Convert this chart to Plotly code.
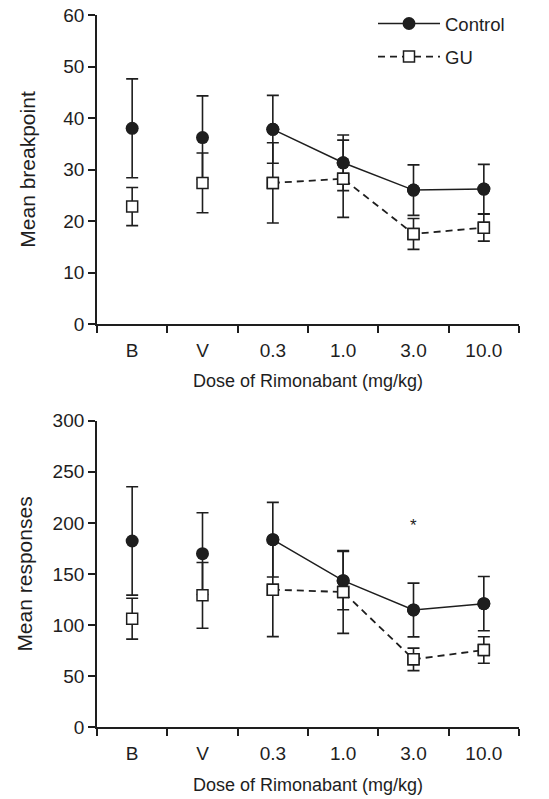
import plotly.graph_objects as go

categories = ["B", "V", "0.3", "1.0", "3.0", "10.0"]

# Top panel: Mean breakpoint
bp_control = [38.0, 36.2, 37.8, 31.3, 26.0, 26.2]
bp_control_err = [9.6, 8.1, 6.6, 5.4, 4.9, 4.8]
bp_gu = [22.8, 27.4, 27.4, 28.2, 17.5, 18.7]
bp_gu_err = [3.7, 5.8, 7.8, 7.5, 3.0, 2.6]

# Bottom panel: Mean responses
rs_control = [182.3, 169.9, 183.6, 143.5, 114.8, 121.0]
rs_control_err = [53.0, 40.0, 36.5, 28.5, 26.3, 26.6]
rs_gu = [106.3, 129.1, 134.7, 132.4, 66.5, 75.6]
rs_gu_err = [20.0, 32.2, 46.0, 40.5, 11.0, 13.0]

# significance mark
star_category = "3.0"
star_value = 197

line_from = 2  # lines connect the doses 0.3 .. 10.0 only

INK = "#1e1e1e"
FONT = "Liberation Sans, Arial, Helvetica, sans-serif"

fig = go.Figure()


def add_panel(xa, ya, ctrl, ctrl_err, gu, gu_err, legend):
    fig.add_trace(go.Scatter(
        x=categories[line_from:], y=ctrl[line_from:], xaxis=xa, yaxis=ya,
        mode="lines+markers", name="Control",
        line=dict(color=INK, width=1.5),
        marker=dict(symbol="circle", size=13, color=INK),
        showlegend=legend, legend="legend", hoverinfo="skip"))
    fig.add_trace(go.Scatter(
        x=categories[line_from:], y=gu[line_from:], xaxis=xa, yaxis=ya,
        mode="lines+markers", name="GU",
        line=dict(color=INK, width=1.8, dash="7px,5px"),
        marker=dict(symbol="square", size=11, color="white",
                    line=dict(color=INK, width=1.5)),
        showlegend=legend, legend="legend2", hoverinfo="skip"))
    fig.add_trace(go.Scatter(
        x=categories, y=ctrl, xaxis=xa, yaxis=ya, mode="markers",
        marker=dict(symbol="circle", size=13, color=INK),
        error_y=dict(type="data", array=ctrl_err, color=INK, thickness=1.6, width=6),
        showlegend=False))
    fig.add_trace(go.Scatter(
        x=categories, y=gu, xaxis=xa, yaxis=ya, mode="markers",
        marker=dict(symbol="square", size=11, color="white",
                    line=dict(color=INK, width=1.5)),
        error_y=dict(type="data", array=gu_err, color=INK, thickness=1.6, width=6),
        showlegend=False))


add_panel("x", "y", bp_control, bp_control_err, bp_gu, bp_gu_err, True)
add_panel("x2", "y2", rs_control, rs_control_err, rs_gu, rs_gu_err, False)

W, H = 549, 799
xdom = [97 / W, 519 / W]
top_dom = [1 - 324 / H, 1 - 15 / H]
bot_dom = [1 - 727.3 / H, 1 - 420.7 / H]

xcommon = dict(
    type="category", categoryorder="array", categoryarray=categories,
    range=[-0.5, 5.5], tickson="boundaries", ticks="outside", ticklen=7,
    tickwidth=1.5, tickcolor=INK, showline=True, linecolor=INK, linewidth=1.8,
    showgrid=False, zeroline=False, domain=xdom, automargin=False,
    ticklabelstandoff=8,
    tickfont=dict(size=19, color=INK, family=FONT),
    title=dict(text="Dose of Rimonabant (mg/kg)", standoff=15,
               font=dict(size=18, color=INK, family=FONT)),
)
ycommon = dict(
    ticks="outside", ticklen=7, tickwidth=1.5, tickcolor=INK, showline=True,
    linecolor=INK, linewidth=1.8, showgrid=False, zeroline=False, automargin=False,
    tickfont=dict(size=19, color=INK, family=FONT),
)

legend_style = dict(xanchor="left", yanchor="top", itemwidth=62,
                    bgcolor="rgba(0,0,0,0)",
                    font=dict(size=18.5, color=INK, family=FONT))

fig.update_layout(
    width=W, height=H, margin=dict(l=0, r=0, t=0, b=0, autoexpand=False),
    paper_bgcolor="white", plot_bgcolor="white",
    font=dict(family=FONT, color=INK),
    xaxis=dict(xcommon, anchor="y"),
    xaxis2=dict(xcommon, anchor="y2"),
    yaxis=dict(ycommon, domain=top_dom, range=[0, 60], dtick=10, anchor="x",
               title=dict(text="Mean breakpoint", standoff=22,
                          font=dict(size=21, color=INK, family=FONT))),
    yaxis2=dict(ycommon, domain=bot_dom, range=[0, 300], dtick=50, anchor="x2",
                title=dict(text="Mean responses", standoff=14,
                           font=dict(size=21, color=INK, family=FONT))),
    legend=dict(legend_style, x=373 / W, y=1 - 5 / H),
    legend2=dict(legend_style, x=373 / W, y=1 - 38 / H),
    annotations=[dict(x=categories.index(star_category), y=star_value,
                      xref="x2", yref="y2", text="*",
                      showarrow=False, font=dict(size=17, color=INK, family=FONT))],
)

fig.write_html("out.html")
